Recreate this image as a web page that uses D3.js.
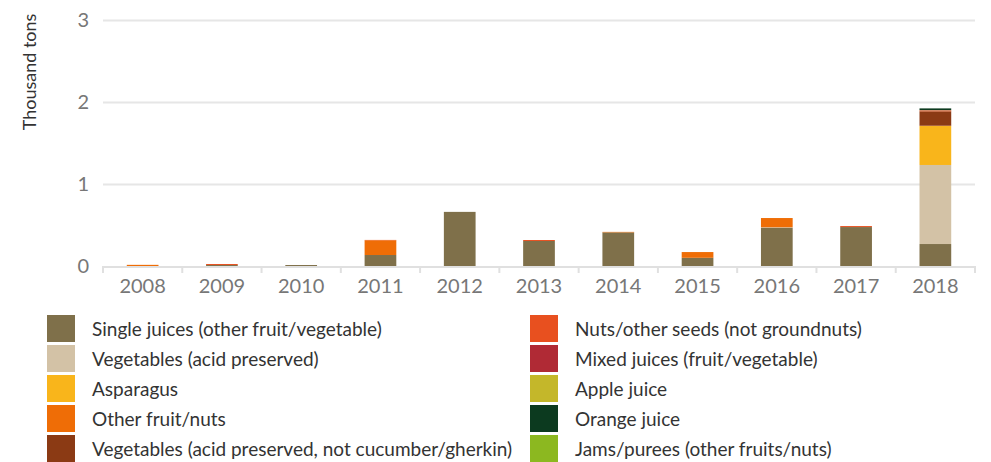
<!DOCTYPE html>
<html>
<head>
<meta charset="utf-8">
<script src="https://cdn.jsdelivr.net/npm/d3@7"></script>
<style>
  body { margin: 0; background: #fff; font-family: Lato, "Open Sans", sans-serif; }
  .grid line { stroke: #e6e6e6; stroke-width: 2; }
  .grid path { display: none; }
</style>
</head>
<body>
<svg id="chart" width="991" height="462"></svg>
<script>
const years = ['2008', '2009', '2010', '2011', '2012', '2013', '2014', '2015', '2016', '2017', '2018'];
const seriesNames = [
  'Single juices (other fruit/vegetable)',
  'Vegetables (acid preserved)',
  'Asparagus',
  'Other fruit/nuts',
  'Vegetables (acid preserved, not cucumber/gherkin)',
  'Nuts/other seeds (not groundnuts)',
  'Mixed juices (fruit/vegetable)',
  'Apple juice',
  'Orange juice',
  'Jams/purees (other fruits/nuts)'
];
const colors = ['#7f704a', '#d3c2a6', '#f9b51b', '#ef6d06', '#8b3a14', '#e8501f', '#b02a35', '#c4b72a', '#0c3a1f', '#8cb820'];

// thousand tons, per series, per year
const singleJuices = [0,     0.012, 0.012, 0.134, 0.66, 0.305, 0.41, 0.10, 0.467, 0.475, 0.268];
const vegAcid      = [0,     0,     0,    0,     0,    0,     0,    0,    0.005, 0,     0.964];
const asparagus    = [0,     0,     0,    0,     0,    0,     0,    0,    0,     0,     0.475];
const otherFruit   = [0.014, 0,     0,    0.18,  0,    0,     0.006, 0.07, 0.113, 0,    0.004];
const vegNotCuc    = [0,     0,     0,    0,     0,    0,     0,    0,    0,     0,     0.175];
const nuts         = [0,     0.012, 0,    0.004, 0,    0.012, 0,    0,    0,     0.012, 0.01];
const mixedJuices  = [0,     0,     0,    0,     0,    0,     0,    0,    0,     0,     0.004];
const appleJuice   = [0,     0,     0,    0,     0,    0,     0,    0,    0,     0,     0.002];
const orangeJuice  = [0,     0,     0,    0,     0,    0,     0,    0,    0,     0,     0.02];
const jams         = [0,     0,     0,    0,     0,    0,     0,    0,    0,     0,     0];
const yTicks = [0, 1, 2, 3];

const seriesValues = [singleJuices, vegAcid, asparagus, otherFruit, vegNotCuc, nuts, mixedJuices, appleJuice, orangeJuice, jams];
const table = years.map((y, i) => {
  const row = { year: y };
  seriesNames.forEach((s, k) => { row[s] = seriesValues[k][i]; });
  return row;
});

const svg = d3.select('#chart');
const margin = { top: 20, left: 103, right: 16 };
const plotBottom = 266;

const x = d3.scaleBand().domain(years).range([margin.left, 991 - margin.right]).paddingInner(0.6).paddingOuter(0.3);
const xEdge = d3.scaleBand().domain(years).range([margin.left, 991 - margin.right]);
const y = d3.scaleLinear().domain([0, 3]).range([plotBottom, margin.top]);

// Gridlines
svg.append('g')
  .attr('class', 'grid')
  .attr('transform', `translate(${margin.left},0)`)
  .call(d3.axisLeft(y).tickValues(yTicks.slice(1)).tickSize(-(991 - margin.right - margin.left)).tickFormat(''));

// Y tick labels
svg.append('g')
  .selectAll('text')
  .data(yTicks)
  .join('text')
  .attr('x', 89)
  .attr('y', d => y(d))
  .attr('dy', '0.35em')
  .attr('text-anchor', 'end')
  .attr('fill', '#777')
  .style('font-size', '20px')
  .text(d => d);

// Axis title
svg.append('text')
  .attr('transform', 'translate(30,72) rotate(-90)')
  .attr('text-anchor', 'middle')
  .attr('dy', '0.35em')
  .attr('fill', '#333')
  .style('font-size', '18px')
  .text('Thousand tons');

// Stacked bars
const stack = d3.stack().keys(seriesNames)(table);
svg.append('g')
  .selectAll('g')
  .data(stack)
  .join('g')
  .attr('fill', (d, i) => colors[i])
  .selectAll('rect')
  .data(d => d)
  .join('rect')
  .attr('x', d => x(d.data.year))
  .attr('width', x.bandwidth())
  .attr('y', d => y(d[1]))
  .attr('height', d => y(d[0]) - y(d[1]));

// Baseline with ticks
const base = svg.append('g');
base.append('line')
  .attr('x1', margin.left).attr('x2', 991 - margin.right)
  .attr('y1', plotBottom + 1).attr('y2', plotBottom + 1)
  .attr('stroke', '#e0e0e0').attr('stroke-width', 2);
base.selectAll('.tick')
  .data(years.map(d => xEdge(d)).concat([991 - margin.right]))
  .join('line')
  .attr('x1', d => d).attr('x2', d => d)
  .attr('y1', plotBottom).attr('y2', plotBottom + 7)
  .attr('stroke', '#e0e0e0').attr('stroke-width', 2);
base.selectAll('text')
  .data(years)
  .join('text')
  .attr('x', d => x(d) + x.bandwidth() / 2)
  .attr('y', 293)
  .attr('text-anchor', 'middle')
  .attr('fill', '#777')
  .style('font-size', '20px')
  .text(d => d);

// Legend
const legend = svg.append('g');
const items = legend.selectAll('g')
  .data(seriesNames)
  .join('g')
  .attr('transform', (d, i) => `translate(${i < 5 ? 47 : 530},${315 + (i % 5) * 30})`);
items.append('rect')
  .attr('width', 28)
  .attr('height', 27)
  .attr('fill', (d, i) => colors[i]);
items.append('text')
  .attr('x', 45)
  .attr('y', 14)
  .attr('dy', '0.35em')
  .attr('fill', '#333')
  .style('font-size', '19px')
  .text(d => d);
</script>
</body>
</html>
